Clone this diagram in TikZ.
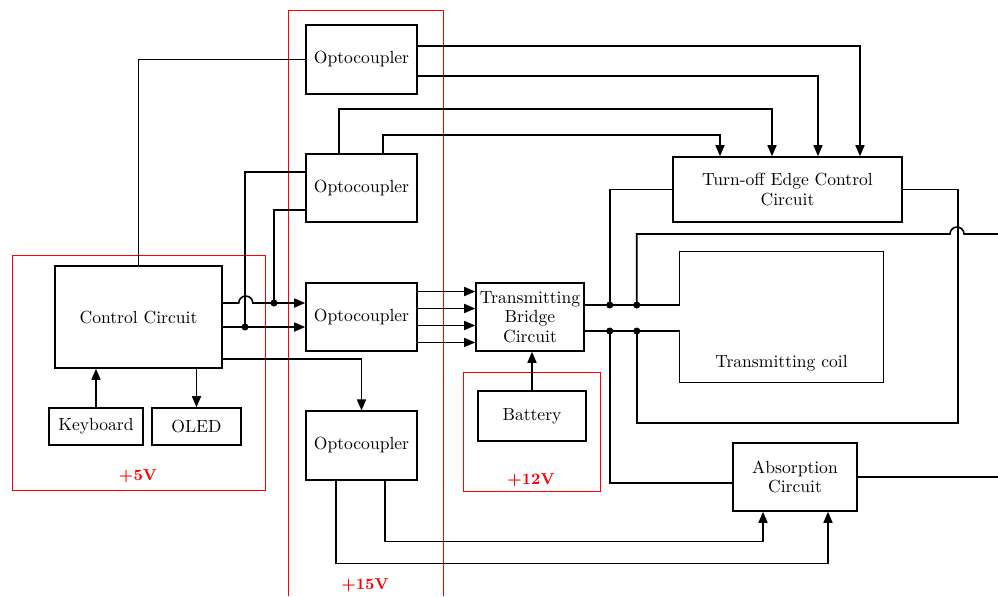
\documentclass[tikz,border=0pt]{standalone}
\usetikzlibrary{arrows.meta}
\begin{document}
\begin{tikzpicture}[x=0.02cm,y=-0.02cm,>={Triangle[length=2.2mm,width=1.8mm]},
	block/.style={draw,line width=0.9pt,rectangle,inner sep=2pt,align=center,font=\fontsize{10}{11}\selectfont},
	supply/.style={draw=red,line width=0.5pt},
	volt/.style={text=red,font=\small\bfseries},
	wire/.style={line width=0.9pt},
	dot/.style={circle,fill,inner sep=0pt,minimum size=1.4mm}]
	\useasboundingbox (0,0) rectangle (998,596);
	% supply domains
	\draw[supply] (12,255) rectangle (265,490);
	\draw[supply] (288,596) -- (288,10) -- (443,10) -- (443,596);
	\draw[supply] (463,372) rectangle (600,491);
	\node[volt] (v5) at (138,476) {+5V};
	\node[volt] (v15) at (365,585) {+15V};
	\node[volt] (v12) at (531,480) {+12V};
	% blocks
	\node[block,minimum width=3.34cm,minimum height=2.04cm] (ctrl) at (138.5,317) {Control Circuit};
	\node[block,minimum width=1.88cm,minimum height=0.74cm] (key) at (96,426.5) {Keyboard};
	\node[block,minimum width=1.78cm,minimum height=0.74cm] (oled) at (196.5,426.5) {OLED};
	\foreach \i/\y in {1/59.5,2/188,3/317,4/445.5}
		\node[block,minimum width=2.22cm,minimum height=1.37cm] (opto\i) at (361.5,\y) {Optocoupler};
	\node[block,minimum width=2.16cm,minimum height=1.36cm] (bridge) at (530,317) {Transmitting\\Bridge\\Circuit};
	\node[block,minimum width=2.16cm,minimum height=1cm] (battery) at (532,416) {Battery};
	\node[block,minimum width=4.58cm,minimum height=1.3cm] (turnoff) at (787.5,189.5) {Turn-off Edge Control\\Circuit};
	\node[block,minimum width=2.48cm,minimum height=1.36cm] (absorb) at (795,477) {Absorption\\Circuit};
	\node[minimum width=4.06cm,minimum height=2.6cm] (coil) at (781.5,317) {};
	\node[above=0.1cm,font=\fontsize{10}{11}\selectfont] (coiltext) at (coil.south) {Transmitting coil};
	% control side
	\draw[wire] (ctrl.north) |- (opto1.west);
	\draw[wire,->] ([yshift=0.28cm]ctrl.east) -- ++(16,0) arc[start angle=180,end angle=0,radius=0.14cm] -- ([yshift=0.28cm]opto3.west);
	\draw[wire,->] ([yshift=-0.2cm]ctrl.east) -- ([yshift=-0.2cm]opto3.west);
	\draw[wire,->] ([yshift=-0.84cm]ctrl.east) -| (opto4.north);
	\node[dot] (j1) at (274,303) {};
	\node[dot] (j2) at (245,327) {};
	\draw[wire] (j1.center) |- ([yshift=-0.44cm]opto2.west);
	\draw[wire] (j2.center) |- ([yshift=0.32cm]opto2.west);
	\draw[wire,->] (key.north) -- (key.north |- ctrl.south);
	\draw[wire,->] (oled.north |- ctrl.south) -- (oled.north);
	% optocoupler outputs
	\draw[wire,->] ([yshift=0.27cm]opto1.east) -| ([xshift=1.45cm]turnoff.north);
	\draw[wire,->] ([yshift=-0.33cm]opto1.east) -| ([xshift=0.61cm]turnoff.north);
	\draw[wire,->] ([xshift=-0.45cm]opto2.north) -- ++(0,-44) -| ([xshift=-0.31cm]turnoff.north);
	\draw[wire,->] ([xshift=0.43cm]opto2.north) -- ++(0,-18) -| ([xshift=-1.35cm]turnoff.north);
	\foreach \s in {0.51,0.17,-0.17,-0.51}
		\draw[wire,->] ([yshift=\s cm]opto3.east) -- ([yshift=\s cm]bridge.west);
	\draw[wire,->] ([xshift=-0.51cm]opto4.south) -- ++(0,83) -| ([xshift=0.66cm]absorb.south);
	\draw[wire,->] ([xshift=0.47cm]opto4.south) -- ++(0,61) -| ([xshift=-0.64cm]absorb.south);
	\draw[wire,->] (battery.north) -- (battery.north |- bridge.south);
	% bridge to coil and feedback
	\draw[wire] ([yshift=0.24cm]bridge.east) -- ([yshift=0.24cm]coil.west) |- (coil.north east) |- (coil.south west) -- ([yshift=-0.28cm]coil.west) -- ([yshift=-0.28cm]bridge.east);
	\foreach \n/\dx/\dy in {u1/0.5/0.24,u2/1.04/0.24,l1/0.5/-0.28,l2/1.04/-0.28}
		\node[dot] (\n) at ([xshift=\dx cm,yshift=\dy cm]bridge.east) {};
	\coordinate (r1) at (998,234);
	\coordinate (r2) at (998,477);
	\draw[wire] (u1.center) |- (turnoff.west);
	\draw[wire] (u2.center) |- ([xshift=-0.96cm]r1) arc[start angle=180,end angle=0,radius=0.14cm] -- (r1);
	\draw[wire] (turnoff.east) -- ([xshift=1.1cm]turnoff.east) -- ++(0,233.5) -| (l2.center);
	\draw[wire] (l1.center) |- ([yshift=-0.12cm]absorb.west);
	\draw[wire] (absorb.east) -- (r2);
\end{tikzpicture}
\end{document}
